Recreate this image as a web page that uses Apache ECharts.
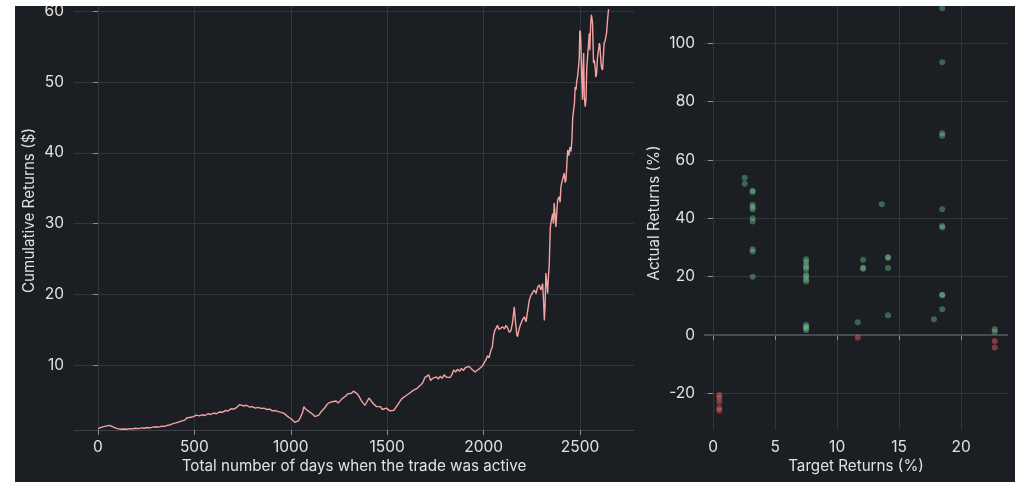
<!DOCTYPE html>
<html>
<head>
<meta charset="utf-8">
<script src="https://cdn.jsdelivr.net/npm/echarts@6/dist/echarts.min.js"></script>
<style>
html,body{margin:0;padding:0;background:#ffffff;}
#chart{width:1020px;height:482px;}
</style>
</head>
<body>
<div id="chart"></div>
<script>
// ---- Left panel: cumulative returns over days ----
const days = [0,10,20,30,40,50,60,70,80,90,100,110,120,135,150,165,180,195,210,225,240,255,270,285,300,315,330,345,360,375,390,405,420,435,450,460,470,480,495,510,525,540,555,570,585,600,615,630,645,660,675,690,705,720,735,745,755,770,785,800,815,830,845,860,875,890,905,920,935,950,965,980,995,1010,1020,1030,1040,1050,1060,1068,1075,1085,1095,1105,1115,1125,1135,1145,1155,1165,1175,1185,1195,1205,1215,1225,1235,1245,1255,1265,1275,1285,1295,1305,1315,1325,1335,1345,1355,1365,1375,1385,1395,1405,1415,1425,1435,1445,1455,1465,1475,1485,1495,1505,1515,1525,1535,1545,1555,1565,1575,1585,1595,1605,1615,1625,1635,1645,1655,1665,1675,1685,1695,1705,1715,1725,1735,1745,1755,1765,1775,1785,1795,1805,1815,1825,1835,1845,1855,1865,1875,1885,1895,1905,1915,1925,1935,1945,1955,1965,1975,1985,1995,2005,2012,2020,2028,2038,2045,2052,2058,2065,2072,2080,2090,2098,2108,2116,2125,2134,2142,2150,2159,2165,2172,2176,2185,2194,2202,2211,2220,2228,2237,2245,2255,2263,2272,2280,2289,2297,2306,2311,2315,2319,2323,2328,2332,2336,2340,2346,2352,2358,2362,2366,2370,2375,2380,2384,2392,2397,2401,2410,2418,2423,2427,2432,2436,2442,2448,2453,2458,2462,2466,2471,2475,2479,2483,2487,2492,2496,2499,2502,2505,2509,2513,2516,2519,2522,2527,2531,2535,2539,2544,2548,2551,2555,2559,2562,2565,2568,2570,2574,2579,2582,2586,2591,2596,2600,2603,2608,2612,2617,2621,2625,2630,2634,2638,2643,2648];
const cumReturns = [1.0,1.1,1.2,1.3,1.35,1.5,1.45,1.3,1.2,1.05,1.0,0.95,0.9,0.95,0.9,1.0,0.95,1.05,1.0,1.1,1.05,1.15,1.1,1.2,1.25,1.2,1.35,1.3,1.45,1.55,1.7,1.8,1.95,2.1,2.2,2.5,2.4,2.6,2.7,2.9,2.8,2.95,2.85,3.1,3.0,3.2,3.1,3.35,3.3,3.55,3.5,3.8,3.75,4.0,4.4,4.5,4.2,4.3,4.05,4.1,3.9,4.0,3.85,3.9,3.7,3.75,3.5,3.55,3.4,3.3,3.15,2.8,2.5,2.2,1.9,1.75,2.1,2.6,3.2,4.1,3.8,3.9,3.4,3.5,3.0,2.7,2.5,2.9,3.3,3.5,3.9,4.3,4.6,4.4,4.8,5.0,4.9,4.6,4.8,5.2,5.4,5.6,5.9,6.1,6.0,6.3,6.2,5.9,5.5,5.0,4.6,4.3,4.8,5.3,5.0,4.6,4.4,4.1,3.9,4.1,3.7,3.6,3.9,3.8,3.5,3.4,3.6,3.8,4.4,4.8,5.2,5.0,5.6,5.5,6.0,5.8,6.4,6.2,6.7,6.6,7.2,7.5,8.2,8.0,8.6,7.8,8.1,7.9,8.3,8.0,8.4,8.1,8.6,8.3,8.5,8.2,8.6,9.3,9.0,9.4,9.1,9.5,9.2,9.6,9.4,9.8,9.5,9.3,9.0,9.2,9.4,9.6,9.9,10.4,10.7,11.3,11.0,12.1,12.5,14.2,14.9,15.2,15.6,15.0,14.9,15.4,15.1,15.6,15.2,14.6,14.9,16.0,18.2,16.2,14.3,14.0,15.2,15.9,16.4,16.8,16.1,16.3,19.2,19.8,20.3,20.6,20.1,21.0,21.3,20.6,21.5,19.0,16.3,18.5,23.0,21.5,20.1,22.5,23.9,29.5,30.5,31.4,30.0,32.9,31.5,29.5,31.8,33.3,33.8,33.0,35.2,36.3,37.1,35.8,36.1,38.5,40.4,39.6,40.8,40.2,41.8,44.9,45.0,47.0,49.3,48.9,50.1,50.7,52.0,53.4,57.3,57.0,55.0,50.7,47.5,52.0,54.1,48.0,46.5,47.5,52.0,52.1,55.3,56.9,54.5,58.0,59.5,59.0,58.3,55.0,52.7,53.1,52.0,50.7,51.2,53.6,54.5,55.5,55.2,53.0,52.0,51.7,53.5,55.5,55.8,56.4,57.0,58.8,60.3];
const leftXTicks = [0,500,1000,1500,2000,2500];
const leftYTicks = [10,20,30,40,50,60];

// ---- Right panel: target vs actual returns (%) ----
const targetReturns = [0.5,0.5,0.5,0.5,0.5,2.55,2.55,3.19,3.19,3.19,3.19,3.19,3.19,3.19,3.19,3.19,3.19,7.5,7.5,7.5,7.5,7.5,7.5,7.5,7.5,7.5,7.5,7.5,7.5,7.5,11.66,11.66,12.09,12.09,12.09,13.6,14.1,14.1,14.1,14.1,17.8,18.47,18.47,18.47,18.47,18.47,18.47,18.47,18.47,18.47,18.47,22.7,22.7,22.7,22.7];
const actualReturns = [-20.6,-21.5,-22.9,-25.1,-25.9,53.9,51.8,49.4,49.0,44.6,43.8,43.1,40.0,38.9,29.4,28.6,19.9,25.9,25.1,24.0,23.2,22.5,20.6,20.0,19.1,18.3,3.4,2.9,2.3,1.7,4.3,-0.9,25.8,22.7,23.0,44.8,26.7,26.4,22.9,6.7,5.4,112.0,93.5,69.1,68.3,43.1,37.3,36.8,13.8,13.6,8.8,1.9,1.1,-2.1,-4.3];
const rightXTicks = [0,5,10,15,20];
const rightYTicks = [-20,0,20,40,60,80,100];

const bg = '#1b1e22';
const gridColor = '#30363c';
const textColor = '#e2e2e2';
const tickColor = '#8a9096';
const fontFamily = 'Inter, Lato, sans-serif';
const tickFont = 15.5;
const nameFont = 15.2;

const chart = echarts.init(document.getElementById('chart'), null, {renderer: 'canvas'});

function plainNum(v) { return String(v); }

function makeAxis(ticks, interval, extra, labelMargin) {
  return Object.assign({
    type: 'value',
    minInterval: interval, maxInterval: interval,
    axisLine: {show: false},
    axisTick: {show: true, length: 5, inside: false, lineStyle: {color: tickColor, width: 1}, customValues: ticks},
    axisLabel: {color: textColor, fontSize: tickFont, fontFamily: fontFamily, margin: labelMargin, customValues: ticks, formatter: plainNum},
    splitLine: {show: true, lineStyle: {color: gridColor, width: 1}},
    nameLocation: 'middle',
    nameMoveOverlap: false,
    nameTextStyle: {color: textColor, fontSize: nameFont, fontFamily: fontFamily}
  }, extra);
}

const lineData = days.map((d, i) => [d, cumReturns[i]]);
const scatterData = targetReturns.map((t, i) => [t, actualReturns[i]]);

const option = {
  backgroundColor: bg,
  animation: false,
  grid: [
    {left: 74, top: 0, width: 560, height: 430, containLabel: false},
    {left: 704, top: 0, width: 304, height: 430, containLabel: false}
  ],
  xAxis: [
    makeAxis(leftXTicks, 500, {
      gridIndex: 0, min: -124.5, max: 2780,
      name: 'Total number of days when the trade was active', nameGap: 29,
      axisLine: {show: true, lineStyle: {color: '#3a4046', width: 1}}
    }, 9),
    makeAxis(rightXTicks, 5, {
      gridIndex: 1, min: -0.73, max: 23.77,
      name: 'Target Returns (%)', nameGap: 29
    }, 9)
  ],
  yAxis: [
    makeAxis(leftYTicks, 10, {
      gridIndex: 0, min: 0.8, max: 61.6,
      name: 'Cumulative Returns ($)', nameGap: 37, nameRotate: 90,
      nameTextStyle: {color: textColor, fontSize: nameFont, fontFamily: fontFamily, padding: [0, 0, 0, 9]}
    }, 10),
    makeAxis(rightYTicks, 20, {
      gridIndex: 1, min: -32.6, max: 114.8,
      name: 'Actual Returns (%)', nameGap: 42, nameRotate: 90,
      nameTextStyle: {color: textColor, fontSize: nameFont, fontFamily: fontFamily, padding: [0, 0, 0, 4]}
    }, 9)
  ],
  series: [
    {
      type: 'line', xAxisIndex: 0, yAxisIndex: 0, data: lineData,
      showSymbol: false, symbol: 'none',
      lineStyle: {color: '#f4a2a2', width: 1.4},
      clip: true
    },
    {
      type: 'line', xAxisIndex: 1, yAxisIndex: 1, data: [[-0.73, 0], [23.77, 0]],
      showSymbol: false, symbol: 'none', silent: true,
      lineStyle: {color: '#454c53', width: 2}, z: 1
    },
    {
      type: 'scatter', xAxisIndex: 1, yAxisIndex: 1, data: scatterData,
      symbolSize: 6, z: 3,
      itemStyle: {
        color: function (p) { return p.value[1] >= 0 ? 'rgba(120, 205, 155, 0.5)' : 'rgba(235, 95, 95, 0.6)'; }
      }
    }
  ],
  graphic: [
    {type: 'rect', z: 100, shape: {x: 0, y: 0, width: 15, height: 482}, style: {fill: '#ffffff'}},
    {type: 'rect', z: 100, shape: {x: 0, y: 0, width: 1020, height: 6}, style: {fill: '#ffffff'}},
    {type: 'rect', z: 100, shape: {x: 1015, y: 0, width: 5, height: 482}, style: {fill: '#ffffff'}}
  ]
};
chart.setOption(option);
</script>
</body>
</html>
